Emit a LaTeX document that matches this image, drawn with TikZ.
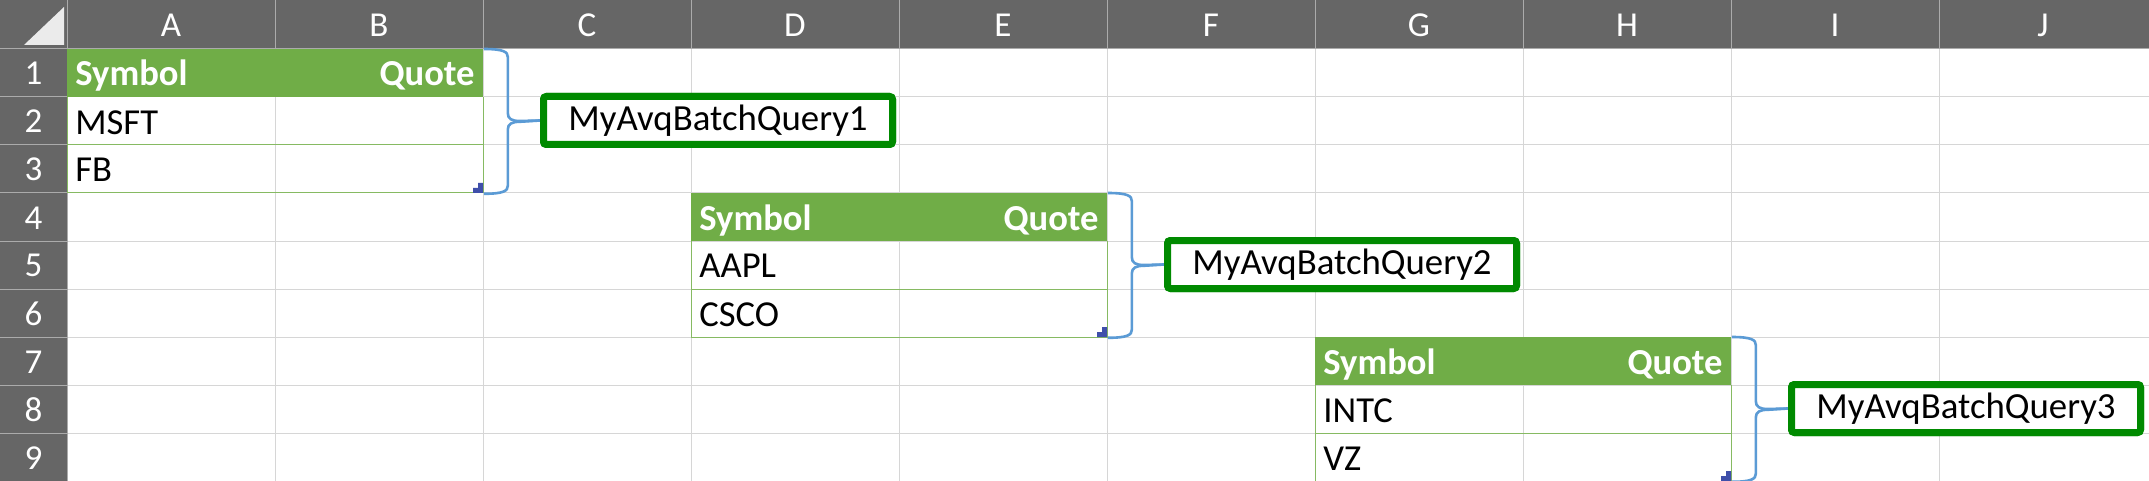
\documentclass[tikz,border=0pt]{standalone}
\usepackage{fontspec}
\setmainfont{Carlito}
\usetikzlibrary{positioning}
\definecolor{hdrgray}{HTML}{666666}
\definecolor{hdrline}{HTML}{ABABAB}
\definecolor{gridgray}{HTML}{D6D6D6}
\definecolor{tabgreen}{HTML}{70AD47}
\definecolor{tabline}{HTML}{86BA62}
\definecolor{qgreen}{HTML}{008A00}
\definecolor{braceblue}{HTML}{5B9BD5}
\definecolor{handleblue}{HTML}{3F4FAA}
\tikzset{
  colhead/.style={text=white, anchor=base, inner sep=0pt, font=\fontsize{17.5}{19}\selectfont},
  cell/.style={anchor=base west, inner sep=0pt, font=\fontsize{18.3}{20}\selectfont},
  tabhead/.style={cell, text=white, font=\fontsize{18.3}{20}\selectfont\bfseries},
  tabarea/.style={anchor=north west, minimum width=208pt, minimum height=72pt, inner sep=0pt},
  querybox/.style={draw=qgreen, fill=white, line width=3.5pt, rounded corners=1.5pt,
    minimum width=174.5pt, minimum height=24pt, inner sep=0pt, font=\fontsize{18.4}{20}\selectfont},
  brace/.style={draw=braceblue, line width=1.3pt},
}
\begin{document}
\begin{tikzpicture}[x=0.5pt, y=-0.5pt]
\useasboundingbox (0,0) rectangle (2149,481);
\fill[white] (0,0) rectangle (2149,481);

% sheet grid
\foreach \i in {1,...,9}
  \draw[gridgray, line width=0.5pt] ({67+208*\i},49) -- ({67+208*\i},481);
\foreach \j in {1,...,8}
  \draw[gridgray, line width=0.5pt] (67,{49+48*\j}) -- (2149,{49+48*\j});

% headers
\fill[hdrgray] (0,0) rectangle (2149,49);
\fill[hdrgray] (0,0) rectangle (67,481);
\fill[black!8] (24,45) -- (64,45) -- (64,7) -- cycle;
\foreach \i in {1,...,9}
  \draw[hdrline, line width=0.5pt] ({67+208*\i},0) -- ({67+208*\i},49);
\foreach \j in {1,...,8}
  \draw[hdrline, line width=0.5pt] (0,{49+48*\j}) -- (67,{49+48*\j});
\draw[hdrline, line width=0.5pt] (0,49) -- (2149,49);
\draw[hdrline, line width=0.5pt] (67,0) -- (67,481);
\foreach \c [count=\i] in {A,B,C,D,E,F,G,H,I,J}
  \node[colhead] (col\c) at ({67+208*(\i-0.5)},37) {\c};
\foreach \r in {1,...,9}
  \node[colhead] (row\r) at (33.5,{49+48*(\r-1)+36}) {\r};

% tables, braces and query names
\foreach \t/\a/\b [count=\n] in {0/MSFT/FB, 1/AAPL/CSCO, 2/INTC/VZ}{
  \pgfmathsetmacro\xa{67+624*\t}
  \pgfmathsetmacro\ya{49+144*\t}
  \node[tabarea] (t\n) at (\xa,\ya) {};
  \fill[tabgreen] (t\n.north west) rectangle ++(416,48);
  \draw[tabline, line width=0.5pt] (\xa,\ya+48) -- ++(0,96) -- ++(416,0) -- ++(0,-96);
  \draw[tabline, line width=0.5pt] (\xa,\ya+96) -- ++(416,0);
  \fill[handleblue] (\xa+406,\ya+144) -- ++(10,0) -- ++(0,-10) -- ++(-5,0) -- ++(0,5) -- ++(-5,0) -- cycle;
  \node[tabhead] (sym\n) at (\xa+8,\ya+37) {Symbol};
  \node[tabhead, anchor=base east] (quo\n) at (\xa+408,\ya+37) {Quote};
  \node[cell] (a\n) at (\xa+8,\ya+85) {\a};
  \node[cell] (b\n) at (\xa+8,\ya+133) {\b};
  \node[querybox] (q\n) at (\xa+651,\ya+71.5) {MyAvqBatchQuery\n};
  \draw[brace] (t\n.north east) .. controls +(20,0) and +(0,-5) .. ++(24,8)
    -- ++(0,56) .. controls +(0,6) and +(-8,0) .. ++(12,8) -- (q\n.west);
  \draw[brace] (t\n.south east) .. controls +(20,0) and +(0,5) .. ++(24,-8)
    -- ++(0,-56) .. controls +(0,-6) and +(-8,0) .. ++(12,-8) -- (q\n.west);
  \node[querybox] at (q\n) {MyAvqBatchQuery\n};
}
\end{tikzpicture}
\end{document}
